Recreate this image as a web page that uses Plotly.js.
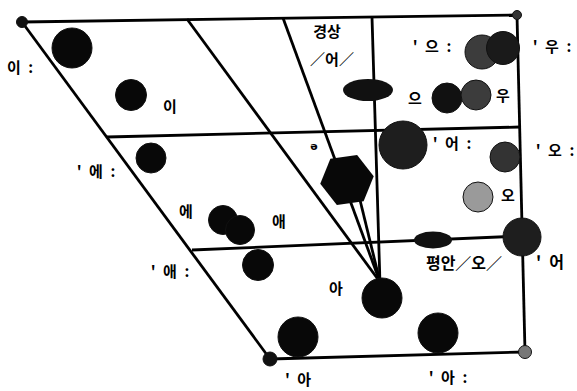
<!DOCTYPE html>
<html>
<head>
<meta charset="utf-8">
<script src="https://cdn.plot.ly/plotly-3.0.1.min.js"></script>
<style>
  html, body { margin: 0; padding: 0; background: #fff; }
  #chart { width: 577px; height: 391px; }
</style>
</head>
<body>
<div id="chart"></div>
<script>
// Line segments of the vowel chart (start / end points, picture coordinates)
let segX0 = [22, 517, 525, 270, 107, 192, 372, 187, 283, 360]
let segY0 = [22, 15, 352, 359, 137, 250, 17, 19, 18, 200]
let segX1 = [517, 525, 270, 22, 520, 522, 380, 380, 380, 380]
let segY1 = [15, 352, 359, 22, 127, 236, 284, 282, 282, 282]

// Vowel blobs
let blobX = [22, 517, 525, 270, 72, 131, 151, 223, 240, 258, 298, 438, 382, 403, 522, 478, 505, 447, 476, 482, 503]
let blobY = [22, 15, 352, 359, 48, 95, 158, 220, 230, 265, 337, 333, 298, 145, 237, 197, 157, 98, 95, 52, 48]
let blobSize = [11, 9, 13, 14, 40, 31, 30, 29, 29, 31, 40, 40, 40, 48, 38, 30, 30, 30, 30, 34, 33]
let blobColor = ["#111", "#333", "#777", "#111", "#080808", "#080808", "#080808", "#080808", "#080808",
                 "#080808", "#080808", "#080808", "#080808", "#1e1e1e", "#1e1e1e", "#9a9a9a",
                 "#333", "#111", "#3c3c3c", "#3c3c3c", "#1a1a1a"]

// Hexagon blob (schwa)
let hexX = [347]
let hexY = [180]

// Lens shaped blobs: centre, width, height
let lensX = [368, 433]
let lensY = [90, 240]
let lensW = [50, 38]
let lensH = [22, 17]

// Labels (en spaces keep the gaps)
let labelX = [20, 170, 96, 186, 279, 170, 336, 298, 448, 464, 550, 508, 555, 452, 415, 503, 432, 552, 327, 332, 314]
let labelY = [69, 108, 173, 213, 223, 273, 290, 381, 379, 265, 264, 197, 152, 145, 100, 97, 48, 48, 33, 61, 147]
let labelText = ["이\u2002:", "이", "'\u2002에\u2002:", "에", "애", "'\u2002애\u2002:", "아", "'\u2002아",
                 "'\u2002아\u2002:", "평안／오／", "'\u2002어", "오", "'\u2002오\u2002:", "'\u2002어\u2002:",
                 "으", "우", "'\u2002으\u2002:", "'\u2002우\u2002:", "경상", "／어／", "ə"]
let labelSize = [15, 15, 15, 15, 15, 15, 15, 15, 15, 16, 16, 15, 15, 15, 15, 15, 15, 15, 15, 15, 11]

// Build the line trace with gaps between segments
let lineX = []
let lineY = []
for (let i = 0; i < segX0.length; i++) {
    lineX.push(segX0[i], segX1[i], null);
    lineY.push(segY0[i], segY1[i], null);
}

let lineTrace = {
    x: lineX,
    y: lineY,
    mode: "lines",
    line: { color: "#000", width: 2.8 },
    hoverinfo: "skip"
}

let hexTrace = {
    x: hexX,
    y: hexY,
    mode: "markers",
    marker: { symbol: "hexagon2", size: 54, color: "#080808", opacity: 1, angle: -8, line: { width: 0 } },
    hoverinfo: "skip"
}

let blobTrace = {
    x: blobX,
    y: blobY,
    mode: "markers",
    marker: { symbol: "circle", size: blobSize, color: blobColor, opacity: 1, line: { color: "#111", width: 1 } },
    hoverinfo: "skip"
}

let labelTrace = {
    x: labelX,
    y: labelY,
    mode: "text",
    text: labelText,
    textposition: "middle center",
    textfont: { family: "Noto Sans CJK KR, DejaVu Sans", size: labelSize, color: "#000", weight: 700 },
    hoverinfo: "skip"
}

// Lens blobs as ellipses placed on the axes
let shapes = []
for (let i = 0; i < lensX.length; i++) {
    shapes.push({
        type: "circle",
        xref: "x", yref: "y",
        x0: lensX[i] - lensW[i] / 2, x1: lensX[i] + lensW[i] / 2,
        y0: lensY[i] - lensH[i] / 2, y1: lensY[i] + lensH[i] / 2,
        fillcolor: "#111",
        line: { width: 0 },
        layer: "above"
    });
}

let layout = {
    width: 577,
    height: 391,
    margin: { l: 0, r: 0, t: 0, b: 0 },
    paper_bgcolor: "#fff",
    plot_bgcolor: "#fff",
    showlegend: false,
    xaxis: { range: [0, 577], visible: false, fixedrange: true },
    yaxis: { range: [391, 0], visible: false, fixedrange: true },
    shapes: shapes
}

Plotly.newPlot("chart", [lineTrace, hexTrace, blobTrace, labelTrace], layout, { displayModeBar: false, staticPlot: true })
</script>
</body>
</html>
